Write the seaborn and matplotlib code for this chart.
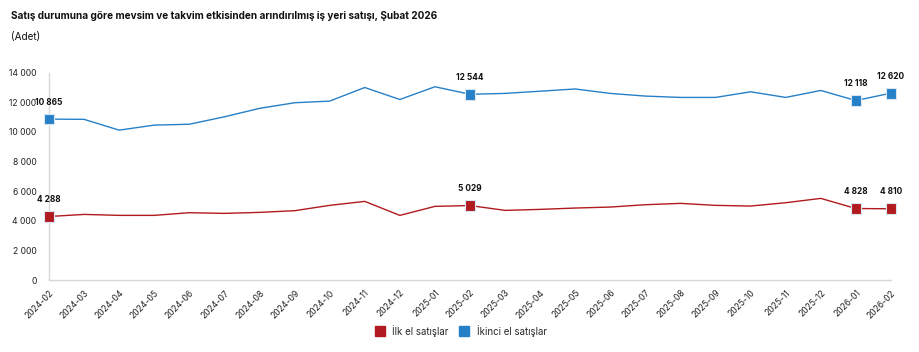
import pandas as pd
import numpy as np
import matplotlib.pyplot as plt
import seaborn as sns
from matplotlib.lines import Line2D

# Aylar
donemler = ['2024-02', '2024-03', '2024-04', '2024-05', '2024-06', '2024-07',
            '2024-08', '2024-09', '2024-10', '2024-11', '2024-12', '2025-01',
            '2025-02', '2025-03', '2025-04', '2025-05', '2025-06', '2025-07',
            '2025-08', '2025-09', '2025-10', '2025-11', '2025-12', '2026-01',
            '2026-02']

# Satis serileri (adet)
ilk_el = [4288, 4430, 4365, 4365, 4545, 4500, 4567, 4680, 5040, 5310, 4365, 4972,
          5029, 4702, 4770, 4860, 4927, 5085, 5175, 5040, 4995, 5220, 5512, 4828,
          4810]
ikinci_el = [10865, 10850, 10120, 10460, 10520, 11020, 11590, 11970, 12080, 13000,
             12190, 13050, 12544, 12600, 12750, 12900, 12600, 12420, 12330, 12330,
             12710, 12330, 12800, 12118, 12620]

# Etiketlenen noktalar
etiket_idx = [0, 12, 23, 24]

seri_adlari = ['İlk el satışlar', 'İkinci el satışlar']
renkler = {'İlk el satışlar': '#B11A1E', 'İkinci el satışlar': '#2680C8'}

df = pd.DataFrame({
    'x': list(range(len(donemler))) * 2,
    'deger': ilk_el + ikinci_el,
    'seri': [seri_adlari[0]] * len(donemler) + [seri_adlari[1]] * len(donemler),
})
noktalar = df[df['x'].isin(etiket_idx)]

sns.set_theme(style='white')
plt.rcParams['font.family'] = ['Inter', 'DejaVu Sans']

fig = plt.figure(figsize=(9.19, 3.52), dpi=100)
ax = fig.add_axes([0.0533, 0.2045, 0.9162, 0.589])

sns.lineplot(data=df, x='x', y='deger', hue='seri', palette=renkler,
             linewidth=1.0, ax=ax, legend=False)
sns.scatterplot(data=noktalar, x='x', y='deger', hue='seri', palette=renkler,
                marker='s', s=60, edgecolor='#d9e6f2', linewidth=0.8,
                ax=ax, legend=False, clip_on=False, zorder=5)

def fmt(v):
    return f'{v:,}'.replace(',', ' ')

for _, r in noktalar.iterrows():
    ax.annotate(fmt(int(r['deger'])), (r['x'], r['deger']),
                xytext=(0, 9), textcoords='offset points', ha='center',
                va='bottom', fontsize=6, fontweight='bold', color='#111111')

ax.set_xlim(0, len(donemler) - 1)
ax.set_ylim(0, 14000)
ax.set_yticks(np.arange(0, 14001, 2000))
ax.set_yticklabels([fmt(v) for v in range(0, 14001, 2000)])
ax.set_xticks(range(len(donemler)))
ax.set_xticklabels(donemler, rotation=45, ha='right', rotation_mode='anchor')
ax.tick_params(axis='both', length=0, labelsize=6.2, colors='#222222')
ax.tick_params(axis='y', pad=9)
ax.tick_params(axis='x', pad=6)
ax.set_xlabel('')
ax.set_ylabel('')

for s in ['top', 'right']:
    ax.spines[s].set_visible(False)
for s in ['left', 'bottom']:
    ax.spines[s].set_color('#d4d7dc')
    ax.spines[s].set_linewidth(1.0)

fig.text(0.0125, 0.955, 'Satış durumuna göre mevsim ve takvim etkisinden arındırılmış iş yeri satışı, Şubat 2026',
         fontsize=7.2, fontweight='bold', color='#111111', va='center')
fig.text(0.0125, 0.895, '(Adet)', fontsize=7.2, color='#111111', va='center')

tutamac = [Line2D([0], [0], marker='s', linestyle='', markersize=7,
                  markerfacecolor=renkler[a], markeredgecolor=renkler[a], label=a)
           for a in seri_adlari]
fig.legend(handles=tutamac, loc='center', bbox_to_anchor=(0.499, 0.06), ncol=2,
           frameon=False, fontsize=7, handletextpad=0.3, columnspacing=0.6)

plt.savefig('out.png', dpi=100)
